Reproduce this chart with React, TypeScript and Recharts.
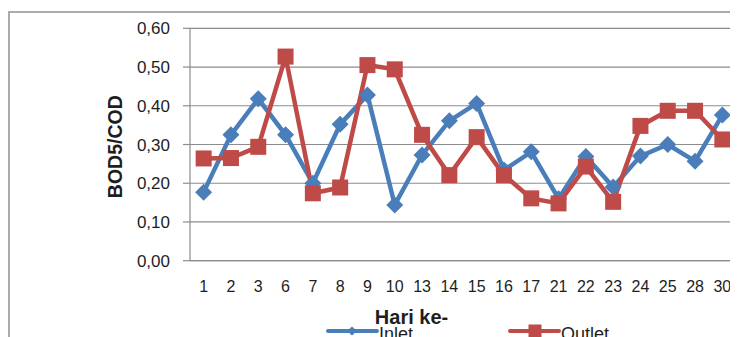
import React from 'react';
import { LineChart, Line, XAxis, YAxis, CartesianGrid, Legend } from 'recharts';

const days = ['1', '2', '3', '6', '7', '8', '9', '10', '13', '14', '15', '16', '17', '21', '22', '23', '24', '25', '28', '30'];
const inletValues = [0.177, 0.325, 0.418, 0.325, 0.2, 0.352, 0.428, 0.144, 0.273, 0.361, 0.406, 0.234, 0.281, 0.16, 0.269, 0.19, 0.27, 0.3, 0.257, 0.376];
const outletValues = [0.264, 0.265, 0.294, 0.527, 0.174, 0.189, 0.505, 0.494, 0.325, 0.221, 0.319, 0.221, 0.161, 0.148, 0.243, 0.152, 0.348, 0.387, 0.387, 0.313];
const yTicks = [0, 0.1, 0.2, 0.3, 0.4, 0.5, 0.6];
const seriesNames = ['Inlet', 'Outlet'];
const xTitle = 'Hari ke-';
const yTitle = 'BOD5/COD';

const BLUE = '#4A7EBB';
const RED = '#BE4B48';
const GRID = '#8c8c8c';
const FONT = '"Liberation Sans", Arial, sans-serif';
const TEXT = '#1e1e1e';

const data = days.map((d, i) => ({ idx: i, day: d, inlet: inletValues[i], outlet: outletValues[i] }));

const Diamond = (props: any) => {
  const { cx, cy, r = 8, fill = BLUE } = props;
  if (cx == null || cy == null) return null;
  return <polygon points={`${cx},${cy - r} ${cx + r},${cy} ${cx},${cy + r} ${cx - r},${cy}`} fill={fill} />;
};

const Square = (props: any) => {
  const { cx, cy, s = 16, fill = RED } = props;
  if (cx == null || cy == null) return null;
  return <rect x={cx - s / 2} y={cy - s / 2} width={s} height={s} fill={fill} />;
};

const renderLegend = (props: any) => {
  const payload = props.payload || [];
  return (
    <svg width={730} height={26} style={{ display: 'block', overflow: 'visible' }}>
      {payload.map((p: any, i: number) => {
        const x0 = 320 + i * 182;
        const cy = 11;
        const isInlet = p.dataKey === 'inlet';
        return (
          <g key={i}>
            <line x1={x0} x2={x0 + 49} y1={cy} y2={cy} stroke={p.color} strokeWidth={4} strokeLinecap="round" />
            {isInlet ? (
              <polygon points={`${x0 + 24},${cy - 4.5} ${x0 + 29},${cy} ${x0 + 24},${cy + 4.5} ${x0 + 19},${cy}`} fill={p.color} />
            ) : (
              <rect x={x0 + 18.5} y={cy - 6.5} width={13} height={13} fill={p.color} />
            )}
            <text x={x0 + 51} y={19.6} fontSize={18} fontFamily={FONT} fill={TEXT}>
              {p.value}
            </text>
          </g>
        );
      })}
    </svg>
  );
};

export default function App() {
  return (
    <div style={{ position: 'relative', width: 730, height: 329, overflow: 'hidden', background: '#fff' }}>
      <style>{'html,body{overflow:hidden;}'}</style>
      <div
        style={{
          position: 'absolute',
          left: 0,
          top: 3,
          width: 780,
          height: 400,
          border: '2px solid #ababab',
          boxSizing: 'border-box',
        }}
      />
      <div style={{ position: 'absolute', left: 0, top: 0 }}>
        <LineChart width={730} height={329} data={data} margin={{ top: 20.3, right: 2, bottom: 46.3, left: 0 }}>
          <CartesianGrid vertical={false} stroke={GRID} strokeWidth={1.2} />
          <XAxis
            dataKey="idx"
            type="number"
            domain={[-0.5, 19.5]}
            ticks={days.map((_, i) => i)}
            interval={0}
            tickFormatter={(v: number) => days[v]}
            height={30}
            tickSize={0}
            tickMargin={20}
            tickLine={false}
            axisLine={{ stroke: GRID, strokeWidth: 1.2 }}
            tick={{ fontSize: 16, fontFamily: FONT, fill: TEXT }}
            label={() => (
              <text x={403.5} y={316.3} textAnchor="middle" fontSize={20} fontWeight="bold" fontFamily={FONT} fill={TEXT}>
                {xTitle}
              </text>
            )}
          />
          <YAxis
            type="number"
            domain={[0, 0.6]}
            ticks={yTicks}
            interval={0}
            width={182}
            tickSize={7}
            tickMargin={13}
            tickLine={{ stroke: GRID, strokeWidth: 1.2 }}
            axisLine={{ stroke: GRID, strokeWidth: 1.2 }}
            tickFormatter={(v: number) => v.toFixed(2).replace('.', ',')}
            tick={{ fontSize: 17, fontFamily: FONT, fill: TEXT }}
            label={() => (
              <text
                x={113.7}
                y={138.7}
                transform="rotate(-90, 113.7, 138.7)"
                textAnchor="middle"
                fontSize={19.5}
                fontWeight="bold"
                fontFamily={FONT}
                fill={TEXT}
              >
                {yTitle}
              </text>
            )}
          />
          <Legend
            layout="horizontal"
            align="center"
            verticalAlign="middle"
            wrapperStyle={{ top: 312, left: 0, width: 730, height: 26 }}
            content={renderLegend}
          />
          <Line
            type="linear"
            dataKey="inlet"
            name={seriesNames[0]}
            stroke={BLUE}
            strokeWidth={4.5}
            dot={(p: any) => <Diamond key={`d${p.index}`} cx={p.cx} cy={p.cy} r={8.5} fill={BLUE} />}
            activeDot={false}
            isAnimationActive={false}
          />
          <Line
            type="linear"
            dataKey="outlet"
            name={seriesNames[1]}
            stroke={RED}
            strokeWidth={4.5}
            dot={(p: any) => <Square key={`s${p.index}`} cx={p.cx} cy={p.cy} s={16} fill={RED} />}
            activeDot={false}
            isAnimationActive={false}
          />
        </LineChart>
      </div>
    </div>
  );
}
